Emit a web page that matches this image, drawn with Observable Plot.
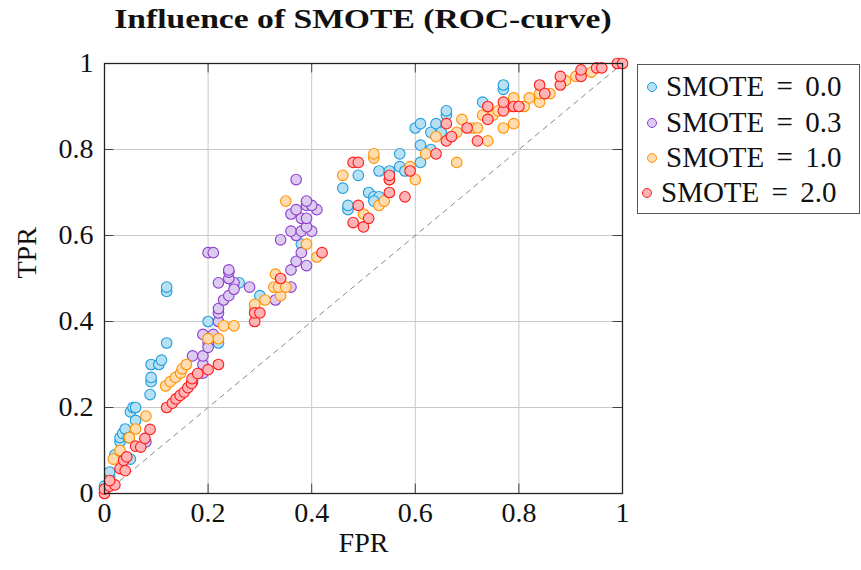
<!DOCTYPE html>
<html>
<head>
<meta charset="utf-8">
<script src="https://cdn.jsdelivr.net/npm/d3@7"></script>
<script src="https://cdn.jsdelivr.net/npm/@observablehq/plot@0.6"></script>
<style>
  body { margin: 0; background: #fff; }
  #wrap { position: relative; width: 861px; height: 570px; font-family: "Liberation Serif", serif; }
  #chart svg, #chart svg text { font-family: "Liberation Serif", serif !important; }
  #title { position: absolute; left: 0; width: 726px; top: 3px; text-align: center; font-weight: bold; font-size: 28px; color: #111; transform: scaleX(1.2); transform-origin: 363px 0; }
  #legend { position: absolute; left: 637px; top: 64px; width: 221px; height: 148px; border: 1px solid #555; background: #fff; }
  .row { position: absolute; left: 0; height: 35px; display: flex; align-items: center; font-size: 29px; word-spacing: 5px; color: #111; white-space: nowrap; }
  .sw { display: inline-block; width: 8px; height: 8px; border-radius: 50%; border: 1px solid; margin-left: 9px; margin-right: 9px; }
</style>
</head>
<body>
<div id="wrap">
  <div id="title">Influence of SMOTE (ROC-curve)</div>
  <div id="chart"></div>
  <div id="legend"></div>
</div>
<script>
// ---- data ----
const seriesNames = ["SMOTE = 0.0", "SMOTE = 0.3", "SMOTE = 1.0", "SMOTE = 2.0"];
const strokeColors = ["#1f9ddb", "#8b3fcc", "#ff9300", "#ff1a1a"];
const fillColors = ["#b8e0f3", "#dccaf0", "#ffdcb0", "#ffb5b5"];

const fpr0 = [0.00,0.01,0.01,0.01,0.02,0.03,0.03,0.035,0.04,0.046,0.05,0.05,0.06,0.055,0.06,0.088,0.09,0.09,0.09,0.105,0.11,0.12,0.12,0.12,0.20,0.22,0.26,0.30,0.38,0.46,0.47,0.47,0.49,0.51,0.52,0.53,0.52,0.53,0.55,0.57,0.57,0.58,0.60,0.61,0.61,0.61,0.63,0.63,0.64,0.65,0.66,0.66,0.73,0.77,0.77];
const tpr0 = [0.017,0.03,0.04,0.05,0.09,0.12,0.13,0.14,0.15,0.13,0.08,0.19,0.17,0.20,0.20,0.23,0.26,0.27,0.30,0.30,0.31,0.35,0.47,0.48,0.40,0.35,0.49,0.46,0.58,0.71,0.66,0.67,0.74,0.70,0.69,0.69,0.68,0.75,0.75,0.79,0.76,0.75,0.85,0.86,0.81,0.77,0.80,0.84,0.86,0.84,0.88,0.89,0.91,0.94,0.95];

const fpr1 = [0.08,0.17,0.19,0.19,0.17,0.19,0.19,0.21,0.20,0.20,0.22,0.22,0.22,0.23,0.24,0.25,0.22,0.25,0.24,0.24,0.24,0.28,0.33,0.36,0.36,0.39,0.37,0.38,0.34,0.37,0.36,0.38,0.40,0.39,0.38,0.39,0.36,0.37,0.41,0.39,0.40,0.39,0.37,0.20,0.21];
const tpr1 = [0.12,0.26,0.28,0.30,0.32,0.32,0.37,0.37,0.35,0.34,0.40,0.42,0.43,0.45,0.46,0.49,0.49,0.475,0.50,0.515,0.52,0.48,0.45,0.48,0.52,0.53,0.54,0.56,0.59,0.60,0.61,0.61,0.61,0.62,0.64,0.64,0.65,0.66,0.66,0.67,0.67,0.68,0.73,0.56,0.56];

const fpr2 = [0.017,0.03,0.048,0.06,0.08,0.118,0.127,0.137,0.147,0.15,0.158,0.20,0.22,0.23,0.25,0.29,0.29,0.29,0.31,0.34,0.327,0.336,0.35,0.33,0.35,0.39,0.41,0.46,0.50,0.53,0.54,0.52,0.52,0.55,0.59,0.60,0.62,0.64,0.68,0.68,0.69,0.71,0.72,0.73,0.74,0.75,0.76,0.77,0.78,0.79,0.79,0.81,0.82,0.84,0.84,0.86,0.89,0.91,0.94];
const tpr2 = [0.08,0.10,0.13,0.15,0.18,0.25,0.26,0.27,0.28,0.29,0.30,0.36,0.36,0.39,0.39,0.42,0.43,0.44,0.45,0.46,0.48,0.48,0.48,0.51,0.68,0.58,0.55,0.74,0.65,0.67,0.68,0.78,0.79,0.73,0.76,0.73,0.79,0.83,0.77,0.84,0.87,0.85,0.85,0.88,0.82,0.88,0.89,0.85,0.90,0.86,0.92,0.90,0.92,0.91,0.93,0.93,0.96,0.97,0.98];

const fpr3 = [0.00,0.00,0.01,0.02,0.01,0.03,0.04,0.037,0.043,0.06,0.07,0.078,0.088,0.12,0.131,0.138,0.146,0.154,0.161,0.168,0.169,0.18,0.20,0.22,0.29,0.29,0.30,0.34,0.42,0.48,0.49,0.50,0.51,0.48,0.49,0.55,0.55,0.55,0.58,0.59,0.64,0.66,0.66,0.67,0.70,0.72,0.74,0.74,0.77,0.77,0.79,0.80,0.84,0.85,0.88,0.88,0.92,0.92,0.95,0.96,0.99,1.00];
const tpr3 = [0.00,0.01,0.017,0.02,0.03,0.058,0.053,0.077,0.085,0.11,0.108,0.128,0.149,0.20,0.21,0.22,0.228,0.236,0.246,0.256,0.267,0.279,0.288,0.30,0.40,0.42,0.42,0.50,0.56,0.63,0.67,0.62,0.64,0.77,0.77,0.70,0.73,0.74,0.69,0.75,0.79,0.82,0.86,0.83,0.85,0.82,0.87,0.90,0.89,0.91,0.90,0.90,0.95,0.93,0.95,0.97,0.97,0.985,0.99,0.99,1.00,1.00];

const tickValues = [0, 0.2, 0.4, 0.6, 0.8, 1];
const diagonal = [0, 1];

// ---- build table ----
const fprs = [fpr0, fpr1, fpr2, fpr3];
const tprs = [tpr0, tpr1, tpr2, tpr3];
const points = [];
seriesNames.forEach((name, i) => {
  fprs[i].forEach((x, j) => points.push({series: name, fpr: x, tpr: tprs[i][j]}));
});

const fmt = d => String(+d.toFixed(1));
const tickLen = 0.022;
const serif = "Liberation Serif";

const chart = Plot.plot({
  width: 861,
  height: 570,
  marginLeft: 104,
  marginRight: 239,
  marginTop: 63,
  marginBottom: 77,
  style: {fontFamily: serif, fontSize: "28px", color: "#111", background: "#fff"},
  x: {domain: [0, 1], ticks: tickValues, tickFormat: fmt, label: null},
  y: {domain: [0, 1], ticks: tickValues, tickFormat: fmt, label: null},
  color: {domain: seriesNames, range: fillColors},
  marks: [
    Plot.gridX(tickValues, {stroke: "#c8c8c8", strokeOpacity: 1, strokeWidth: 1}),
    Plot.gridY(tickValues, {stroke: "#c8c8c8", strokeOpacity: 1, strokeWidth: 1}),
    Plot.line(diagonal, {x: d => d, y: d => d, stroke: "#888", strokeWidth: 1, strokeDasharray: "5,5"}),
    // inner ticks on all four sides
    Plot.ruleX(tickValues, {y1: 0, y2: tickLen, stroke: "#444", strokeWidth: 1}),
    Plot.ruleX(tickValues, {y1: 1 - tickLen, y2: 1, stroke: "#444", strokeWidth: 1}),
    Plot.ruleY(tickValues, {x1: 0, x2: tickLen * 430 / 518, stroke: "#444", strokeWidth: 1}),
    Plot.ruleY(tickValues, {x1: 1 - tickLen * 430 / 518, x2: 1, stroke: "#444", strokeWidth: 1}),
    Plot.axisX({ticks: tickValues, tickFormat: fmt, tickSize: 0, tickPadding: 9, fontSize: 28, fontFamily: serif, label: null}),
    Plot.axisY({ticks: tickValues, tickFormat: fmt, tickSize: 0, tickPadding: 11, fontSize: 28, fontFamily: serif, label: null}),
    Plot.dot(points, {
      x: "fpr", y: "tpr", r: 5.3,
      fill: "series",
      stroke: d => strokeColors[seriesNames.indexOf(d.series)],
      strokeWidth: 1.1, fillOpacity: 1
    }),
    Plot.frame({stroke: "#222", strokeWidth: 1.3}),
    Plot.text(["FPR"], {frameAnchor: "bottom", dy: 58, fontSize: 28, fontFamily: serif}),
    Plot.text(["TPR"], {frameAnchor: "left", dx: -77, rotate: -90, fontSize: 28, fontFamily: serif})
  ]
});
document.getElementById("chart").appendChild(chart);

// ---- legend ----
const legend = document.getElementById("legend");
const rowTops = [4, 40, 75, 110];
const rowLefts = [0, 0, 0, -5];
seriesNames.forEach((name, i) => {
  const row = document.createElement("div");
  row.className = "row";
  row.style.top = rowTops[i] + "px";
  row.style.left = rowLefts[i] + "px";
  const sw = document.createElement("span");
  sw.className = "sw";
  sw.style.background = fillColors[i];
  sw.style.borderColor = strokeColors[i];
  row.appendChild(sw);
  const t = document.createElement("span");
  t.textContent = name;
  row.appendChild(t);
  legend.appendChild(row);
});
</script>
</body>
</html>
